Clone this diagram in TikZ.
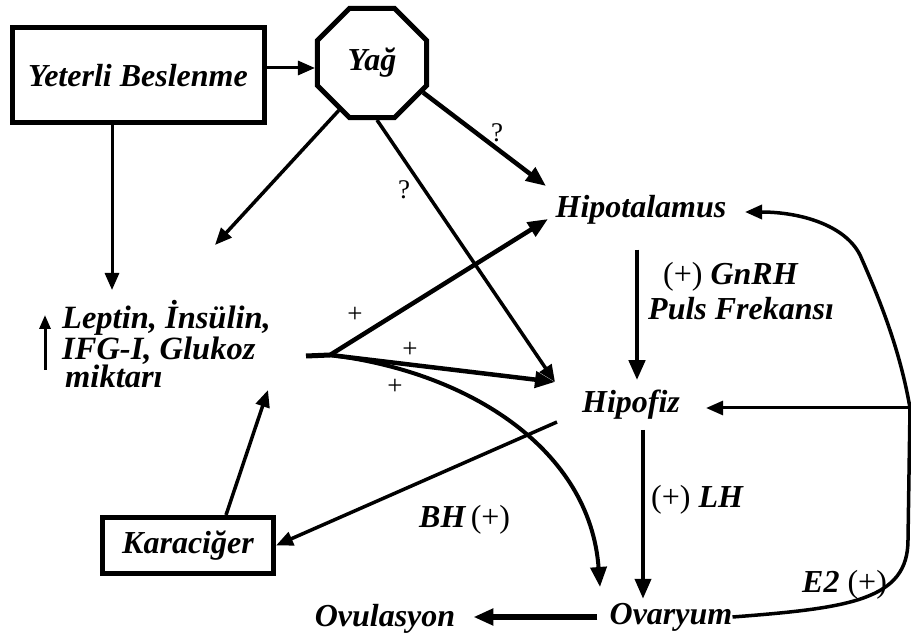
\documentclass[tikz,border=0pt]{standalone}
\usepackage{fontspec}
\setmainfont{Liberation Serif}
\usetikzlibrary{arrows.meta,shapes.geometric}
\begin{document}
\begin{tikzpicture}[x=1pt,y=-1pt,
  lbl/.style={font=\fontsize{32}{27}\selectfont\bfseries\itshape, inner sep=0pt},
  sym/.style={font=\fontsize{27}{27}\selectfont, inner sep=0pt},
  arr/.style={line width=3pt,-{Triangle[length=17pt,width=14pt]}},
  tarr/.style={line width=4.5pt,-{Triangle[length=20pt,width=16pt]}},
  box/.style={draw, line width=5pt, inner sep=0pt}]
\useasboundingbox (0,0) rectangle (911,644);
% nodes
\node[box, lbl, minimum width=252pt, minimum height=95pt] (yb) at (138,75.5) {Yeterli Beslenme};
\node[draw, regular polygon, regular polygon sides=8, minimum size=118pt, line width=5pt, lbl] (yag) at (372,63) {Yağ};
\node[lbl] (hipot) at (641,210) {Hipotalamus};
\node[lbl] (hipof) at (631,405) {Hipofiz};
\node[lbl] (ovar) at (671,617) {Ovaryum};
\node[lbl] (ovul) at (385,619) {Ovulasyon};
\node[box, lbl, minimum width=171pt, minimum height=56pt] (kar) at (188,545.5) {Karaciğer};
\node[lbl, font=\fontsize{32.5}{27}\selectfont\bfseries\itshape, align=left, anchor=base west] (lep) at (62,388) {Leptin, İnsülin,\\IFG-I, Glukoz\\\hspace{3pt}miktarı};
% helper coordinates
\coordinate (ua1) at (45,370);
\coordinate (ua2) at (45,315);
\coordinate (lepin) at (112,290);
\coordinate (lepyag) at (215,245);
\coordinate (lepkar) at (268,390);
\coordinate (j0) at (306,356);
\coordinate (j) at (330,355);
\coordinate (hin) at (555,382);
\coordinate (hti) at (546,186);
\coordinate (hta) at (548,219);
\coordinate (ovin) at (600,587);
\coordinate (rc) at (910,408);
\coordinate (hk) at (557,422);
% labels
\node[sym] (q1) at (497,133) {?};
\node[sym] (q2) at (404,190) {?};
\node[sym] (p1) at (355,315) {+};
\node[sym] (p2) at (410,350) {+};
\node[sym] (p3) at (395,387) {+};
\node[lbl, anchor=base west] (gnrh) at (663,285) {{\mdseries\upshape (+)} GnRH};
\node[lbl, anchor=base west] (puls) at (648,320) {Puls Frekansı};
\node[lbl, anchor=base west] (lh) at (651,507) {{\mdseries\upshape (+)} LH};
\node[lbl, anchor=base west] (bh) at (419,527) {BH\,{\mdseries\upshape (+)}};
\node[lbl, anchor=base west] (e2) at (802,592) {E2 {\mdseries\upshape (+)}};
% connectors
\draw[line width=3pt,-{Triangle[length=14pt,width=11pt]}] (ua1) -- (ua2);
\path (yb.east) ++(0,-7.5) coordinate (a1);
\draw[arr] (a1) -- (a1 -| yag.west);
\draw[arr] (lepin |- yb.south) -- (lepin);
\draw[arr, line width=3.5pt] (yag.235) -- (lepyag);
\draw[arr, line width=3.5pt] (yag.275) -- (hin);
\draw[tarr] (yag.-30) -- (hti);
\draw[line width=5pt] (j0) -- (j);
\draw[tarr] (j) -- (hta);
\draw[tarr] (j) -- (hin);
\draw[tarr, line width=4pt] (j) .. controls (470,372) and (590,450) .. (ovin);
\draw[tarr, shorten <=25pt, shorten >=10pt] ([xshift=-4pt]hipot.south) -- ([xshift=-4pt]hipot.south |- hipof.north);
\draw[tarr, line width=4pt, shorten <=10pt, shorten >=4pt] ([xshift=12pt]hipof.south) -- ([xshift=12pt]hipof.south |- ovar.north);
\draw[arr, shorten >=26pt] (rc) -- (rc -| hipof.east);
\draw[tarr, line width=6pt, shorten <=12pt, shorten >=18pt] (ovar.west) -- (ovar.west -| ovul.east);
\draw[arr, line width=3.5pt] (ovar.east) .. controls (850,608) and (908,600) .. (908,540) -- (rc) .. controls (900,350) and (880,300) .. (860,255) .. controls (845,225) and (800,212) .. (745,212);
\draw[arr, line width=3.5pt] (hk) -- (kar.east);
\draw[arr, line width=3.5pt] ([xshift=38pt]kar.north) -- (lepkar);
\end{tikzpicture}
\end{document}
